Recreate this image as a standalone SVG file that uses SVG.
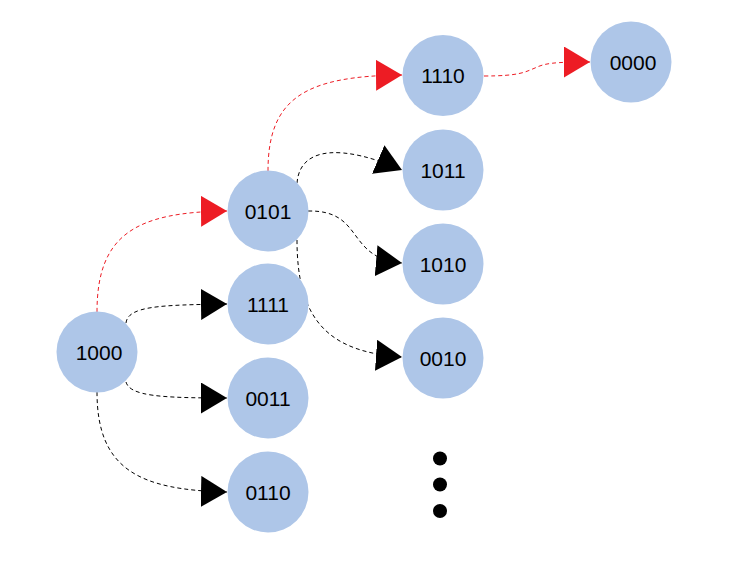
<svg xmlns="http://www.w3.org/2000/svg" width="743" height="565" viewBox="0 0 743 565">
<style>
.node circle{fill:#AEC6E8;}
.node text{font-family:"Liberation Sans",Arial,sans-serif;font-size:21px;fill:#000;text-anchor:middle;}
.edge{fill:none;stroke:#000;stroke-width:1;stroke-dasharray:4,3;}
.edge.red{stroke:#ED1C24;}
</style>
<defs>
<marker id="ab" markerUnits="userSpaceOnUse" markerWidth="26" markerHeight="31" refX="26" refY="15.5" orient="auto" viewBox="0 0 26 31"><path d="M0,0 L26,15.5 L0,31 Z" fill="#000"/></marker>
<marker id="ar" markerUnits="userSpaceOnUse" markerWidth="26" markerHeight="31" refX="26" refY="15.5" orient="auto" viewBox="0 0 26 31"><path d="M0,0 L26,15.5 L0,31 Z" fill="#ED1C24"/></marker>
</defs>
<rect width="743" height="565" fill="#fff"/>
<g id="connectors">
<path class="edge red" d="M97,312 C97,235 135,212 227,211" marker-end="url(#ar)"/>
<path class="edge" d="M126,323 C128,306 160,305 227,304" marker-end="url(#ab)"/>
<path class="edge" d="M126,382 C130,396 160,398 227,398" marker-end="url(#ab)"/>
<path class="edge" d="M97,392 C97,470 140,490 227,492" marker-end="url(#ab)"/>
<path class="edge red" d="M268,171 C268,98 305,76 402,75" marker-end="url(#ar)"/>
<path class="edge" d="M297,183 C300,145 345,145 402,170" marker-end="url(#ab)"/>
<path class="edge" d="M308,211 C365,210 345,258 402,263" marker-end="url(#ab)"/>
<path class="edge" d="M297,240 C297,322 330,352 402,357" marker-end="url(#ab)"/>
<path class="edge red" d="M484,76 C520,76 525,72 535,68 C545,63 555,62 590,62" marker-end="url(#ar)"/>
</g>
<g id="n1000" class="node"><circle cx="97" cy="352" r="40.5"/><text x="99" y="359.5">1000</text></g>
<g id="n0101" class="node"><circle cx="268" cy="211" r="40.5"/><text x="268" y="218.5">0101</text></g>
<g id="n1111" class="node"><circle cx="268" cy="304" r="40.5"/><text x="268" y="311.5">1111</text></g>
<g id="n0011" class="node"><circle cx="268" cy="398" r="40.5"/><text x="268" y="405.5">0011</text></g>
<g id="n0110" class="node"><circle cx="268" cy="492" r="40.5"/><text x="268" y="499.5">0110</text></g>
<g id="n1110" class="node"><circle cx="443" cy="75.5" r="40.5"/><text x="443" y="83">1110</text></g>
<g id="n1011" class="node"><circle cx="443" cy="170" r="40.5"/><text x="443" y="177.5">1011</text></g>
<g id="n1010" class="node"><circle cx="443" cy="264" r="40.5"/><text x="443" y="271.5">1010</text></g>
<g id="n0010" class="node"><circle cx="443" cy="358" r="40.5"/><text x="443" y="365.5">0010</text></g>
<g id="n0000" class="node"><circle cx="631" cy="62" r="40.5"/><text x="633" y="69.5">0000</text></g>
<g id="ellipsis" fill="#000">
<circle cx="440" cy="458.5" r="7"/>
<circle cx="440" cy="484.5" r="7"/>
<circle cx="440" cy="511" r="7"/>
</g>
</svg>
